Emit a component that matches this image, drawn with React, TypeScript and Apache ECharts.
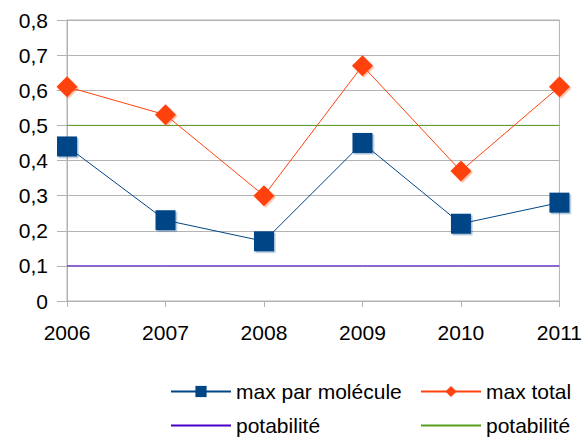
import React, { useEffect, useRef } from "react";
import * as echarts from "echarts";

const years = ["2006", "2007", "2008", "2009", "2010", "2011"];
const maxParMolecule = [0.44, 0.23, 0.17, 0.45, 0.22, 0.28];
const maxTotal = [0.61, 0.53, 0.3, 0.67, 0.37, 0.61];
const potabiliteLow = [0.1, 0.1, 0.1, 0.1, 0.1, 0.1];
const potabiliteHigh = [0.5, 0.5, 0.5, 0.5, 0.5, 0.5];

const FONT = "'Liberation Sans', Arial, sans-serif";

export default function App() {
  const ref = useRef<HTMLDivElement>(null);
  useEffect(() => {
    const chart = echarts.init(ref.current!, null, { renderer: "svg" });
    const legendBase = {
      orient: "horizontal",
      itemWidth: 60,
      itemHeight: 14,
      itemGap: 0,
      padding: 0,
      textStyle: { fontFamily: FONT, fontSize: 21, color: "#000" },
      formatter: (n: string) => (n.startsWith("potabilité") ? "potabilité" : n),
      selectedMode: false,
    };
    chart.setOption({
      animation: false,
      backgroundColor: "#fff",
      grid: {
        left: 67,
        right: 21,
        top: 20,
        bottom: 136,
        show: true,
        borderColor: "#b3b3b3",
        borderWidth: 1,
      },
      legend: [
        { ...legendBase, data: ["max par molécule"], left: 170, top: 381 },
        { ...legendBase, data: ["max total"], left: 420, top: 381 },
        { ...legendBase, data: ["potabilité 1"], left: 170, top: 415, itemStyle: { opacity: 0 } },
        { ...legendBase, data: ["potabilité 2"], left: 420, top: 415, itemStyle: { opacity: 0 } },
      ],
      xAxis: {
        type: "category",
        data: years,
        boundaryGap: false,
        axisLine: { lineStyle: { color: "#b3b3b3" } },
        axisTick: { show: true, length: 6, lineStyle: { color: "#b3b3b3" } },
        axisLabel: { fontFamily: FONT, fontSize: 21, color: "#000", margin: 21 },
        splitLine: { show: false },
      },
      yAxis: {
        type: "value",
        min: 0,
        max: 0.8,
        interval: 0.1,
        axisLine: { show: true, lineStyle: { color: "#b3b3b3" } },
        axisTick: { show: true, length: 10, lineStyle: { color: "#b3b3b3" } },
        axisLabel: {
          fontFamily: FONT,
          fontSize: 21,
          color: "#000",
          margin: 19,
          formatter: (v: number) => (v === 0 ? "0" : v.toFixed(1).replace(".", ",")),
        },
        splitLine: { show: true, lineStyle: { color: "#b3b3b3" } },
      },
      series: [
        {
          name: "max par molécule",
          type: "line",
          data: maxParMolecule,
          symbol: "rect",
          symbolSize: 20,
          z: 4,
          lineStyle: { color: "#004586", width: 1 },
          itemStyle: {
            color: "#004586",
            shadowColor: "rgba(0,69,134,0.35)",
            shadowOffsetX: 1.5,
            shadowOffsetY: 1.5,
          },
        },
        {
          name: "max total",
          type: "line",
          data: maxTotal,
          symbol: "diamond",
          symbolSize: 21,
          z: 4,
          lineStyle: { color: "#ff420e", width: 1 },
          itemStyle: {
            color: "#ff420e",
            shadowColor: "rgba(255,66,14,0.35)",
            shadowOffsetX: 1.5,
            shadowOffsetY: 1.5,
          },
        },
        {
          name: "potabilité 1",
          type: "line",
          data: potabiliteLow,
          symbol: "none",
          z: 3,
          lineStyle: { color: "#4b00c8", width: 1 },
          itemStyle: { color: "#4b00c8" },
        },
        {
          name: "potabilité 2",
          type: "line",
          data: potabiliteHigh,
          symbol: "none",
          z: 3,
          lineStyle: { color: "#579d1c", width: 1 },
          itemStyle: { color: "#579d1c" },
        },
      ],
    });
    return () => chart.dispose();
  }, []);
  return <div ref={ref} style={{ width: 585, height: 437, position: "absolute", left: 0, top: 0 }} />;
}
